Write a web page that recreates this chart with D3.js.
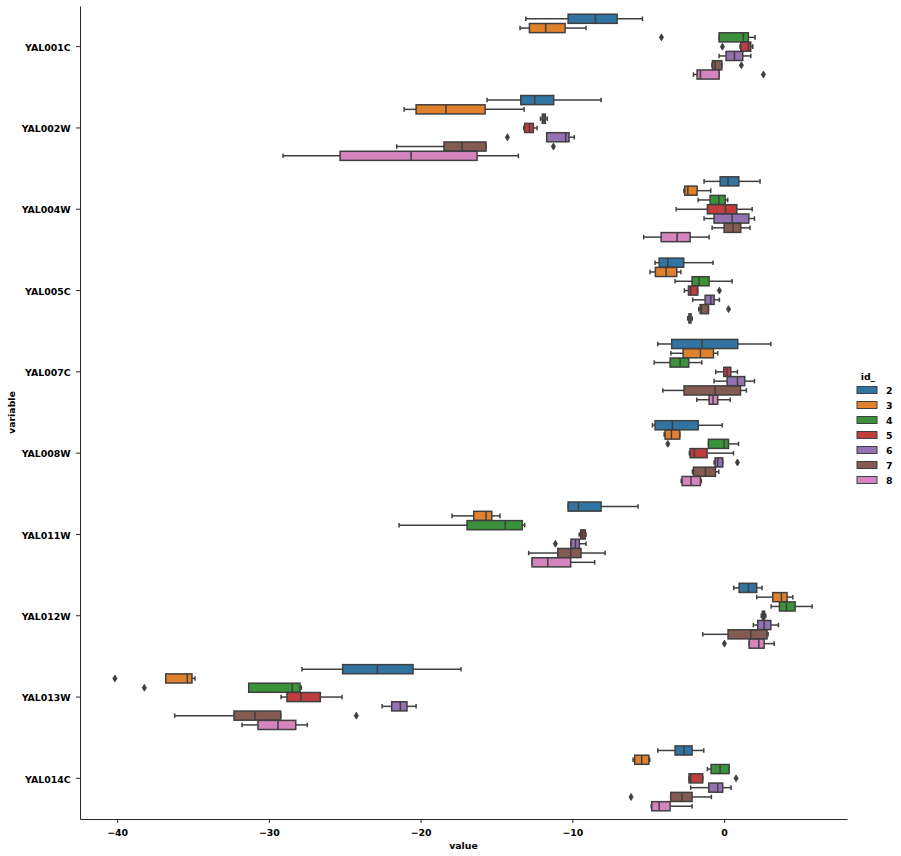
<!DOCTYPE html>
<html><head><meta charset="utf-8">
<script src="https://cdn.jsdelivr.net/npm/d3@7"></script>
<style>body{margin:0;background:#fff}svg text{font-family:"DejaVu Sans",sans-serif;font-weight:bold}</style>
</head><body><svg id="c" width="901" height="856"></svg>
<script>
const categories=["YAL001C","YAL002W","YAL004W","YAL005C","YAL007C","YAL008W","YAL011W","YAL012W","YAL013W","YAL014C"];
const hues=["2","3","4","5","6","7","8"];
const colors=["#3274a1","#e1812c","#3a923a","#c03d3e","#9372b2","#845b53","#d684bd"];
const xTicks=[-40,-30,-20,-10,0];
// five-number summaries [whiskerLow, q1, median, q3, whiskerHigh] per category, per hue
const stats={
"YAL001C":[[-13.07,-10.28,-8.48,-7.05,-5.38],[-13.45,-12.83,-11.76,-10.48,-9.10],[-0.33,-0.33,1.27,1.60,2.04],[1.05,1.10,1.60,1.76,1.89],[-0.33,0.13,0.68,1.23,1.76],[-0.8,-0.77,-0.59,-0.15,-0.15],[-2.02,-1.78,-1.56,-0.33,-0.33]],
"YAL002W":[[-15.62,-13.40,-12.48,-11.23,-8.11],[-21.09,-20.30,-18.33,-15.75,-13.18],[-12.1,-11.98,-11.87,-11.78,-11.65],[-13.2,-13.14,-12.83,-12.57,-12.33],[-11.69,-11.69,-10.44,-10.22,-9.87],[-21.58,-18.46,-17.27,-15.69,-15.69],[-29.07,-25.31,-20.63,-16.28,-13.56]],
"YAL004W":[[-1.32,-0.26,0.26,0.97,2.37],[-2.65,-2.59,-2.39,-1.78,-0.88],[-1.71,-0.92,-0.35,0.07,0.24],[-3.16,-1.10,0.09,0.84,1.85],[-1.32,-0.66,0.53,1.63,2.0],[-0.79,0.0,0.59,1.10,1.71],[-5.3,-4.15,-3.10,-2.24,-0.99]],
"YAL005C":[[-4.55,-4.28,-3.71,-2.66,-0.73],[-4.88,-4.53,-3.82,-3.12,-2.85],[-3.23,-2.11,-1.65,-0.99,0.53],[-2.62,-2.35,-2.2,-1.74,-1.74],[-2.07,-1.25,-0.88,-0.66,-0.31],[-1.67,-1.58,-1.49,-1.03,-1.03],[-2.4,-2.32,-2.25,-2.18,-2.1]],
"YAL007C":[[-4.37,-3.45,-1.45,0.90,3.08],[-3.51,-2.70,-1.56,-0.70,-0.42],[-4.61,-3.56,-2.90,-2.33,-1.47],[-0.55,-0.02,0.18,0.44,0.88],[-0.66,0.20,0.88,1.36,2.0],[-4.04,-2.64,-0.59,1.08,1.47],[-1.80,-0.99,-0.73,-0.42,0.40]],
"YAL008W":[[-4.72,-4.55,-3.41,-1.71,-0.13],[-3.95,-3.89,-3.47,-2.92,-2.92],[-1.03,-1.03,0.0,0.29,0.95],[-2.29,-2.24,-1.96,-1.12,0.62],[-0.66,-0.59,-0.42,-0.09,-0.09],[-2.09,-2.02,-1.23,-0.57,-0.35],[-2.83,-2.77,-2.18,-1.56,-1.5]],
"YAL011W":[[-10.28,-10.28,-9.60,-8.11,-5.67],[-17.93,-16.50,-15.69,-15.31,-14.77],[-21.42,-16.94,-14.42,-13.30,-13.14],[-9.55,-9.45,-9.32,-9.15,-9.1],[-10.1,-10.09,-9.80,-9.54,-9.10],[-12.88,-10.96,-10.11,-9.43,-7.84],[-12.66,-12.66,-11.62,-10.11,-8.53]],
"YAL012W":[[0.64,0.99,1.60,2.15,2.50],[2.15,3.21,3.78,4.15,4.53],[3.10,3.65,4.11,4.68,5.80],[2.45,2.52,2.6,2.67,2.75],[1.93,2.22,2.64,3.08,3.58],[-1.41,0.26,1.76,2.83,2.9],[1.65,1.65,2.29,2.64,3.30]],
"YAL013W":[[-27.82,-25.14,-22.85,-20.50,-17.34],[-36.80,-36.80,-35.38,-35.07,-34.87],[-31.33,-31.33,-28.46,-27.95,-27.86],[-29.20,-28.81,-27.88,-26.61,-25.18],[-22.54,-21.91,-21.34,-20.90,-20.30],[-36.21,-32.30,-30.92,-29.22,-29.22],[-31.77,-30.72,-29.40,-28.23,-27.47]],
"YAL014C":[[-4.37,-3.23,-2.64,-2.11,-1.34],[-6.0,-5.89,-5.43,-4.96,-4.9],[-1.10,-0.86,-0.26,0.33,0.33],[-2.31,-2.31,-2.2,-1.41,-1.41],[-2.2,-1.01,-0.42,-0.09,0.46],[-3.52,-3.52,-2.77,-2.11,-0.84],[-4.8,-4.77,-4.28,-3.56,-2.11]]
};
// outliers: [category, hue, value]
const outliers=[["YAL001C","4",-4.13],["YAL001C","5",-0.11],["YAL001C","7",1.14],["YAL001C","8",2.59],
["YAL002W","6",-14.28],["YAL002W","7",-11.25],
["YAL005C","5",-0.31],["YAL005C","7",0.29],
["YAL008W","4",-3.71],["YAL008W","6",0.88],
["YAL011W","6",-11.12],
["YAL012W","8",0.02],
["YAL013W","3",-40.15],["YAL013W","4",-38.21],["YAL013W","7",-24.24],
["YAL014C","5",0.79],["YAL014C","7",-6.13]];

const svg=d3.select("#c");
const L=80,R=847,T=6,B=819;
const FS=9.4;
const x=d3.scaleLinear().domain([-42.45,8.1]).range([L,R]);
const y=d3.scaleBand().domain(categories).range([T,B]).padding(0);
const bw=y.bandwidth();
const hy=d3.scaleBand().domain(hues).range([-0.4*bw,0.4*bw]).padding(0);
const bh=hy.bandwidth()*0.98;
const col=d3.scaleOrdinal().domain(hues).range(colors);
const gray="#3f3f3f";

const g=svg.append("g");
categories.forEach(c=>{
  stats[c].forEach((s,i)=>{
    const h=hues[i];
    const cy=y(c)+bw/2+hy(h)+hy.bandwidth()/2;
    const gg=g.append("g");
    gg.append("line").attr("x1",x(s[0])).attr("x2",x(s[1])).attr("y1",cy).attr("y2",cy).attr("stroke",gray).attr("stroke-width",1.5);
    gg.append("line").attr("x1",x(s[3])).attr("x2",x(s[4])).attr("y1",cy).attr("y2",cy).attr("stroke",gray).attr("stroke-width",1.5);
    [s[0],s[4]].forEach(v=>gg.append("line").attr("x1",x(v)).attr("x2",x(v)).attr("y1",cy-bh/4).attr("y2",cy+bh/4).attr("stroke",gray).attr("stroke-width",1.5));
    gg.append("rect").attr("x",x(s[1])).attr("width",Math.max(0.5,x(s[3])-x(s[1]))).attr("y",cy-bh/2).attr("height",bh)
      .attr("fill",col(h)).attr("stroke",gray).attr("stroke-width",1.5);
    gg.append("line").attr("x1",x(s[2])).attr("x2",x(s[2])).attr("y1",cy-bh/2).attr("y2",cy+bh/2).attr("stroke",gray).attr("stroke-width",1.5);
  });
});
outliers.forEach(([c,h,v])=>{
  const cy=y(c)+bw/2+hy(h)+hy.bandwidth()/2;
  const px=x(v);
  g.append("path").attr("d",`M${px},${cy-3.5}L${px+2.1},${cy}L${px},${cy+3.5}L${px-2.1},${cy}Z`).attr("fill",gray).attr("stroke",gray).attr("stroke-width",0.8);
});

const xa=svg.append("g").attr("transform",`translate(0,${B})`).call(d3.axisBottom(x).tickValues(xTicks).tickSize(4).tickSizeOuter(0).tickFormat(d3.format("d")));
const ya=svg.append("g").attr("transform",`translate(${L},0)`).call(d3.axisLeft(y).tickSize(4).tickSizeOuter(0));
[xa,ya].forEach(a=>{a.select(".domain").attr("stroke","#262626").attr("stroke-width",1);a.selectAll(".tick line").attr("stroke","#262626");a.selectAll("text").attr("fill","#000").attr("font-size",FS).attr("font-family","DejaVu Sans").attr("font-weight","bold");});
xa.selectAll("text").attr("dy","1.05em");
ya.selectAll("text").attr("dx","-0.25em").attr("dy","0.45em");
svg.append("text").attr("x",(L+R)/2).attr("y",849).attr("text-anchor","middle").attr("font-size",FS).text("value");
svg.append("text").attr("transform",`translate(15,${(T+B)/2}) rotate(-90)`).attr("text-anchor","middle").attr("font-size",FS).text("variable");

const lg=svg.append("g");
lg.append("text").attr("x",868).attr("y",380).attr("text-anchor","middle").attr("font-size",FS).text("id_");
hues.forEach((h,i)=>{
  const yy=390+i*15;
  lg.append("rect").attr("x",857).attr("y",yy-3.5).attr("width",20).attr("height",7).attr("fill",col(h)).attr("stroke",gray).attr("stroke-width",1);
  lg.append("text").attr("x",886).attr("y",yy+3.5).attr("font-size",FS).text(h);
});
</script></body></html>
